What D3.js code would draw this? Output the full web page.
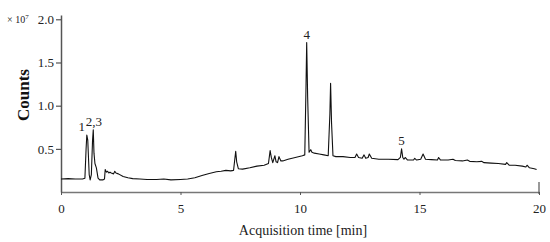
<!DOCTYPE html>
<html>
<head>
<meta charset="utf-8">
<script src="https://cdn.jsdelivr.net/npm/d3@7"></script>
<style>
  body { margin: 0; background: #fff; }
</style>
</head>
<body>
<svg id="chart" width="550" height="242"></svg>
<script>
// retention time (min) and counts (x 10^7)
let time = [0, 0.3, 0.6, 0.9, 1.0, 1.05, 1.08, 1.12, 1.18, 1.22, 1.27, 1.32, 1.35, 1.38, 1.42, 1.48, 1.55, 1.62,
  1.75, 1.82, 1.85, 1.9, 1.95, 2.0, 2.05, 2.1, 2.2, 2.25, 2.3, 2.4, 2.6, 2.8, 3.0, 3.3, 3.6, 4.0, 4.3, 4.6,
  5.0, 5.3, 5.6, 5.9, 6.2, 6.5, 6.7, 6.9, 7.1, 7.22, 7.28, 7.31, 7.35, 7.42, 7.6, 7.9, 8.2, 8.5, 8.68, 8.75,
  8.8, 8.86, 8.95, 9.0, 9.06, 9.12, 9.2, 9.28, 9.5, 9.8, 10.1, 10.2, 10.25, 10.28, 10.32, 10.38, 10.45, 10.5,
  10.6, 10.8, 11.0, 11.18, 11.25, 11.28, 11.32, 11.38, 11.5, 11.8, 12.1, 12.3, 12.37, 12.45, 12.6, 12.68,
  12.75, 12.85, 12.9, 13.0, 13.3, 13.7, 14.1, 14.2, 14.25, 14.3, 14.35, 14.4, 14.5, 14.75, 14.8, 14.88, 15.05,
  15.15, 15.25, 15.5, 15.75, 15.8, 15.88, 16.2, 16.4, 16.5, 16.8, 17.0, 17.1, 17.4, 17.6, 17.7, 18.0, 18.3, 18.6, 18.65, 18.75,
  19.0, 19.3, 19.45, 19.5, 19.6, 19.8, 19.9];
let counts = [0.15, 0.155, 0.15, 0.15, 0.16, 0.5, 0.66, 0.6, 0.2, 0.14, 0.2, 0.6, 0.72, 0.45, 0.33, 0.28, 0.16, 0.14,
  0.14, 0.15, 0.26, 0.23, 0.24, 0.22, 0.23, 0.22, 0.21, 0.24, 0.22, 0.21, 0.18, 0.165, 0.155, 0.15, 0.145, 0.145, 0.15, 0.14,
  0.145, 0.15, 0.165, 0.19, 0.215, 0.235, 0.24, 0.25, 0.245, 0.25, 0.4, 0.47, 0.35, 0.27, 0.265, 0.28, 0.3, 0.31, 0.33, 0.48,
  0.4, 0.34, 0.42, 0.35, 0.34, 0.41, 0.36, 0.36, 0.38, 0.4, 0.42, 0.43, 1.2, 1.73, 1.1, 0.46, 0.49, 0.46,
  0.45, 0.44, 0.43, 0.42, 0.9, 1.26, 0.8, 0.42, 0.41, 0.41, 0.4, 0.4, 0.44, 0.4, 0.39, 0.43,
  0.39, 0.4, 0.44, 0.39, 0.38, 0.38, 0.375, 0.4, 0.5, 0.4, 0.38, 0.4, 0.37, 0.37, 0.39, 0.37, 0.38,
  0.44, 0.38, 0.375, 0.37, 0.4, 0.37, 0.37, 0.38, 0.365, 0.36, 0.37, 0.355, 0.35, 0.355, 0.34, 0.335, 0.33, 0.32, 0.34, 0.31,
  0.31, 0.3, 0.29, 0.31, 0.28, 0.27, 0.26];

let peakLabels = ["1", "2,3", "4", "5"];
let peakTimes = [0.87, 1.38, 10.28, 14.25];
let peakHeights = [0.66, 0.72, 1.73, 0.5];

let xTicks = [0, 5, 10, 15, 20];
let yTicks = [0.5, 1.0, 1.5, 2.0];

let serif = '"Liberation Serif", "Times New Roman", Times, serif';

let svg = d3.select("#chart");

let x = d3.scaleLinear().domain([0, 20]).range([61, 539]);
let y = d3.scaleLinear().domain([0, 2.05]).range([192, 15]);

// x axis
let xAxis = svg.append("g")
  .attr("transform", "translate(0," + y(0) + ")")
  .call(d3.axisBottom(x).tickValues(xTicks).tickSize(3).tickSizeOuter(0).tickFormat(d3.format("d")));
xAxis.select(".domain").attr("stroke", "#777").attr("stroke-width", 1.5);
xAxis.selectAll(".tick line").attr("stroke", "#555");
xAxis.selectAll(".tick text")
  .attr("dy", "0")
  .attr("y", 21)
  .style("font-size", "13px");
// end marker at 20 min points upward
svg.append("line")
  .attr("x1", x(20)).attr("x2", x(20))
  .attr("y1", y(0) + 2).attr("y2", y(0) - 10)
  .attr("stroke", "#555")
  .attr("stroke-width", 1.2);

// y axis
let yAxis = svg.append("g")
  .attr("transform", "translate(" + x(0) + ",0)")
  .call(d3.axisLeft(y).tickValues(yTicks).tickSize(5).tickSizeOuter(0).tickFormat(d3.format(".1f")));
yAxis.select(".domain").attr("stroke", "#555").attr("stroke-width", 1.5);
yAxis.selectAll(".tick line").attr("stroke", "#333");
yAxis.selectAll(".tick text")
  .attr("x", -7)
  .style("font-size", "13px");

// chromatogram trace
let points = time.map((t, i) => [t, counts[i]]);
svg.append("path")
  .datum(points)
  .attr("fill", "none")
  .attr("stroke", "#111")
  .attr("stroke-width", 1.1)
  .attr("stroke-linejoin", "round")
  .attr("d", d3.line().x((d) => x(d[0])).y((d) => y(d[1])));

// peak labels
svg.selectAll(".peak")
  .data(peakLabels)
  .enter()
  .append("text")
  .attr("class", "peak")
  .attr("x", (d, i) => x(peakTimes[i]))
  .attr("y", (d, i) => y(peakHeights[i]) - 4)
  .attr("text-anchor", "middle")
  .style("font-size", "13px")
  .text((d) => d);

// axis titles
svg.append("text")
  .attr("transform", "translate(29,95) rotate(-90)")
  .attr("text-anchor", "middle")
  .style("font-size", "17px")
  .style("font-weight", "bold")
  .style("fill", "#111")
  .text("Counts");

svg.append("text")
  .attr("x", 303)
  .attr("y", 235)
  .attr("text-anchor", "middle")
  .style("font-size", "14px")
  .text("Acquisition time [min]");

let mult = svg.append("text")
  .attr("x", 7)
  .attr("y", 23)
  .style("font-size", "10px");
mult.append("tspan").text("× 10");
mult.append("tspan").attr("dy", -4).style("font-size", "7px").text("7");

svg.selectAll("text")
  .style("font-family", serif)
  .attr("fill", "#222");
</script>
</body>
</html>
